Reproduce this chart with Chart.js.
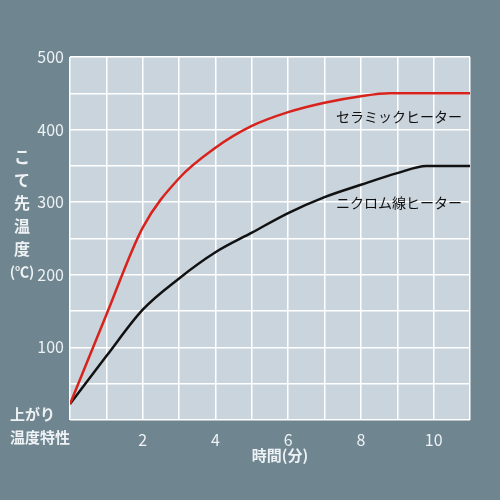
<!DOCTYPE html><html><head><meta charset="utf-8"><script src="https://cdn.jsdelivr.net/npm/chart.js@4"></script>
<style>html,body{margin:0;background:#6f8590}#w{width:500px;height:500px}</style></head><body><div id="w"><canvas id="c"></canvas></div>
<script>
const ceramicT=[0,1,2,3,4,5,6,7,8,8.8,11];
const ceramicV=[22,145,265,333,375,405,424,437,446,450,450];
const nichromeT=[0,1,2,3,4,5,6,7,8,9,9.8,11];
const nichromeV=[22,88,152,195,231,258,285,307,324,340,350,350];
const xTicks=[2,4,6,8,10];
const yTicks=[100,200,300,400,500];
const txt='#eef2f5';
const F='"Noto Sans CJK JP", sans-serif';
const pts=(t,v)=>t.map((x,i)=>({x,y:v[i]}));
const labels={id:'lab',afterDraw(c){const x=c.ctx;x.save();x.fillStyle='#111';x.font='14px '+F;x.textAlign='left';x.textBaseline='middle';
x.fillText('セラミックヒーター',336,117);x.fillText('ニクロム線ヒーター',336,203);
x.fillStyle=txt;x.font='bold 16px '+F;x.textAlign='center';
const s=['こ','て','先','温','度'];s.forEach((ch,i)=>x.fillText(ch,22,157+i*23));
x.font='bold 14px '+F;x.fillText('(℃)',22,272);
x.font='bold 15px '+F;x.fillText('時間(分)',280,455);
x.textAlign='left';x.fillText('上がり',10,414);x.fillText('温度特性',10,437);x.restore();}};
new Chart(document.getElementById('c'),{type:'line',data:{datasets:[
{data:pts(ceramicT,ceramicV),borderColor:'#d8231c',borderWidth:2.5,pointRadius:0,cubicInterpolationMode:'monotone'},
{data:pts(nichromeT,nichromeV),borderColor:'#111',borderWidth:2.5,pointRadius:0,cubicInterpolationMode:'monotone'}]},
options:{responsive:true,maintainAspectRatio:false,animation:false,layout:{padding:{top:57,right:30,left:0,bottom:0}},
plugins:{legend:{display:false},tooltip:{enabled:false}},
scales:{x:{type:'linear',min:0,max:11,afterFit:s=>{s.height=80},border:{display:false},
grid:{color:'#fff',lineWidth:1.5,drawTicks:false},
ticks:{stepSize:1,padding:10,color:txt,font:{size:16,family:F},callback:v=>xTicks.includes(v)?v:''}},
y:{min:0,max:500,afterFit:s=>{s.width=70},border:{display:false},grid:{color:'#fff',lineWidth:1.5,drawTicks:false},
ticks:{stepSize:50,padding:6,color:txt,font:{size:16,family:F},callback:v=>yTicks.includes(v)?v:''}}}},
plugins:[{id:'bg',beforeDraw(c){const a=c.chartArea,x=c.ctx;x.save();x.fillStyle='#c9d4dd';x.fillRect(a.left,a.top,a.right-a.left,a.bottom-a.top);x.restore();}},labels]});
</script></body></html>
